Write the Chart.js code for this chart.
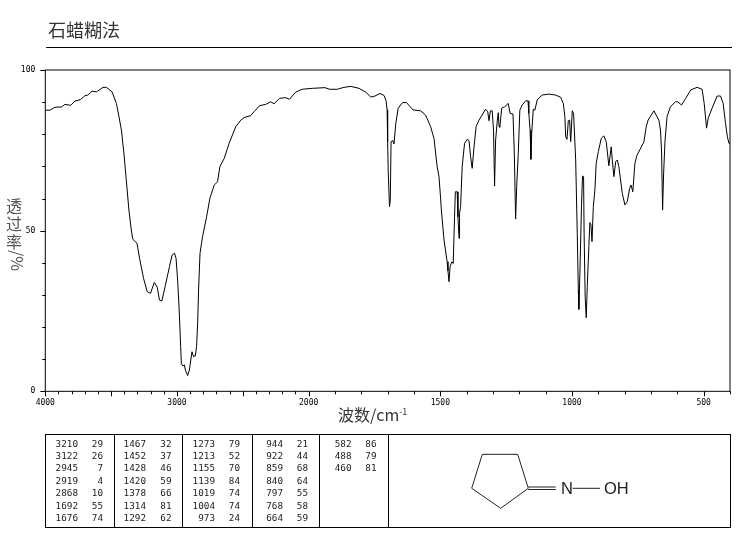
<!DOCTYPE html>
<html lang="zh">
<head>
<meta charset="utf-8">
<title>石蜡糊法</title>
<script src="https://cdn.jsdelivr.net/npm/chart.js@4"></script>
<style>
  html, body { margin: 0; padding: 0; background: #fff; }
  #page { position: relative; width: 737px; height: 539px; overflow: hidden; font-family: "Noto Sans CJK SC", sans-serif; color: #333; }
  #ir { position: absolute; left: 0; top: 0; }
  #title { position: absolute; left: 48px; top: 16px; font-size: 18px; line-height: 26px; white-space: nowrap; }
  #rule { position: absolute; left: 46px; top: 47px; width: 686px; height: 1px; background: #000; }
  #ylabel { position: absolute; left: 5px; top: 196px; width: 18px; font-size: 16px; color: #555; text-align: center; }
  #ylabel span { display: block; height: 18px; line-height: 18px; }
  #ylabel .turn { height: 26px; line-height: 18px; white-space: nowrap; transform: translateY(-4px) rotate(90deg); }
  #xlabel { position: absolute; left: 338px; top: 402px; font-size: 16px; line-height: 24px; color: #333; white-space: nowrap; }
  #xlabel sup { font-size: 9px; line-height: 0; }
  #peaks { position: absolute; left: 45px; top: 434px; width: 684px; height: 92px; border: 1px solid #000; box-sizing: content-box; }
  #peaks .sep { position: absolute; top: 0; width: 1px; height: 92px; background: #000; }
  #peaks .num { position: absolute; font: 9.3px/12px "DejaVu Sans Mono", monospace; color: #222; text-align: right; white-space: pre; }
  #mol { position: absolute; left: 389px; top: 435px; }
</style>
</head>
<body>
<div id="page">
  <canvas id="ir" width="737" height="539"></canvas>
  <div id="title">石蜡糊法</div>
  <div id="rule"></div>
  <div id="ylabel"><span>透</span><span>过</span><span>率</span><span class="turn">/%</span></div>
  <div id="xlabel">波数/cm<sup>-1</sup></div>
  <div id="peaks"></div>
  <svg id="mol" width="340" height="90" viewBox="389 435 340 90">
    <g fill="none" stroke="#222" stroke-width="1">
      <path d="M482.3 454.3 L517.7 454.3 L528.3 488.3 L500.7 508.3 L471.7 488.3 Z"/>
      <path d="M528.3 487 L555.7 487 M528.3 489.5 L555.7 489.5"/>
      <path d="M572.7 488.3 L600 488.3"/>
    </g>
    <g font-family="Liberation Sans, sans-serif" font-size="16.5" fill="#222">
      <text x="561" y="494">N</text>
      <text x="604" y="494">OH</text>
    </g>
  </svg>
</div>

<script>
// Spektrum: bilangan gelombang (cm-1) dan transmitansi (%)
const wavenumbers = [
  4000, 3964, 3927, 3876, 3851, 3808, 3775, 3732, 3700, 3677, 3645, 3611, 3562, 3536, 3493, 3460, 3443, 3422, 3403, 3385,
  3365, 3347, 3335, 3304, 3284, 3254, 3226, 3201, 3172, 3150, 3133, 3115, 3090, 3057, 3037, 3019, 3007, 2995, 2982, 2972,
  2967, 2957, 2944, 2936, 2919, 2906, 2886, 2874, 2861, 2851, 2843, 2836, 2825, 2806, 2775, 2750, 2717, 2692, 2674, 2641,
  2604, 2553, 2515, 2490, 2440, 2415, 2372, 2326, 2288, 2263, 2220, 2175, 2145, 2099, 2049, 1986, 1938, 1920, 1891, 1866,
  1840, 1809, 1783, 1764, 1748, 1729, 1714, 1706, 1702, 1700, 1698, 1693, 1690, 1687, 1680, 1676, 1669, 1660, 1644, 1629,
  1604, 1575, 1556, 1537, 1524, 1512, 1505, 1499, 1496, 1486, 1474, 1471, 1467, 1463, 1456, 1451, 1446, 1443, 1436, 1433,
  1429, 1427, 1423, 1417, 1408, 1398, 1391, 1385, 1379, 1372, 1364, 1353, 1328, 1320, 1315, 1310, 1303, 1298, 1294, 1290,
  1284, 1280, 1277, 1274, 1267, 1255, 1242, 1235, 1224, 1219, 1214, 1210, 1204, 1198, 1189, 1176, 1167, 1164, 1159, 1156,
  1153, 1147, 1141, 1132, 1113, 1088, 1062, 1043, 1033, 1027, 1024, 1019, 1014, 1009, 1005, 999, 994, 986, 980, 976,
  974, 970, 964, 960, 956, 954, 950, 946, 942, 936, 932, 928, 924, 919, 913, 908, 900, 889, 879, 870,
  860, 851, 847, 841, 834, 828, 822, 809, 799, 790, 781, 776, 769, 761, 753, 727, 718, 711, 689, 670,
  664, 660, 656, 652, 647, 639, 626, 607, 598, 584, 568, 549, 525, 506, 498, 489, 483, 468, 449, 436,
  426, 417, 410, 404, 400
];
const transmittance = [
  87.5, 87.5, 88.4, 88.5, 89.3, 89.0, 90.3, 90.8, 92.0, 92.2, 93.4, 93.2, 94.6, 94.6, 93.2, 89.6, 86.0, 81.3, 74.1, 65.8,
  56.4, 50.2, 47.3, 46.1, 41.4, 35.2, 31.0, 30.5, 33.9, 32.4, 28.4, 28.1, 32.6, 38.8, 42.4, 43.0, 41.4, 34.6, 24.3, 13.9,
  8.7, 7.9, 8.2, 6.6, 4.9, 6.6, 12.3, 10.8, 11.0, 13.9, 21.2, 31.5, 43.0, 48.1, 54.3, 60.1, 64.2, 65.2, 69.9, 72.5,
  77.2, 82.4, 84.4, 85.2, 85.8, 87.0, 88.9, 89.3, 90.1, 89.5, 91.2, 91.4, 90.9, 93.1, 94.0, 94.3, 94.5, 94.0, 94.0, 94.6,
  94.9, 94.3, 93.1, 91.6, 91.9, 92.7, 92.1, 90.4, 87.6, 77.7, 68.9, 57.4, 59.5, 77.7, 78.0, 77.0, 83.4, 88.1, 89.8, 89.9,
  87.6, 87.3, 86.0, 82.4, 78.7, 69.9, 66.8, 60.1, 56.4, 47.1, 40.3, 37.5, 34.1, 38.8, 40.3, 39.8, 54.3, 62.1, 62.1, 54.3,
  47.6, 55.4, 57.5, 69.9, 77.2, 78.4, 78.0, 73.0, 69.4, 76.1, 82.4, 84.4, 87.8, 87.0, 84.2, 87.3, 87.3, 81.3, 63.9, 78.2,
  83.9, 86.7, 82.4, 82.2, 88.1, 88.6, 89.6, 86.5, 86.3, 74.1, 53.6, 63.7, 74.1, 87.5, 89.1, 90.4, 90.4, 86.5, 81.3, 72.2,
  80.3, 87.8, 87.5, 90.7, 92.2, 92.5, 92.2, 91.5, 89.6, 85.5, 79.2, 78.4, 84.2, 84.4, 77.7, 87.3, 86.5, 72.0, 49.2, 31.5,
  25.5, 36.7, 57.5, 67.0, 66.8, 49.2, 29.4, 22.9, 32.6, 45.0, 52.5, 51.8, 46.6, 57.5, 62.7, 71.0, 74.6, 78.7, 79.5, 77.7,
  70.2, 76.1, 72.0, 66.8, 71.5, 72.0, 69.9, 61.6, 58.0, 59.0, 63.2, 64.2, 62.1, 71.0, 73.5, 77.6, 82.4, 84.4, 87.3, 84.4,
  81.3, 75.1, 56.4, 67.9, 77.7, 85.5, 88.6, 90.1, 90.1, 89.1, 91.2, 93.8, 94.6, 94.0, 89.6, 81.9, 85.0, 88.1, 91.9, 91.9,
  89.6, 83.4, 79.2, 77.2, 77.0
];

// Label sumbu
const xTickLabels = [4000, 3000, 2000, 1500, 1000, 500];
const yTickLabels = [0, 50, 100];

// Tabel puncak, per kolom
const peakWaves = [
  [3210, 3122, 2945, 2919, 2868, 1692, 1676],
  [1467, 1452, 1428, 1420, 1378, 1314, 1292],
  [1273, 1213, 1155, 1139, 1019, 1004, 973],
  [944, 922, 859, 840, 797, 768, 664],
  [582, 488, 460]
];
const peakValues = [
  [29, 26, 7, 4, 10, 55, 74],
  [32, 37, 46, 59, 66, 81, 62],
  [79, 52, 70, 84, 74, 74, 24],
  [21, 44, 68, 64, 55, 58, 59],
  [86, 79, 81]
];

// Sumbu IR: 4000-2000 dimampatkan setengah dibanding 2000-400
class WavenumberScale extends Chart.LinearScale {
  static id = "wavenumber";
  static defaults = Chart.LinearScale.defaults;

  toUnits(v) {
    return v >= 2000 ? (4000 - v) / 2 : 1000 + (2000 - v);
  }
  buildTicks() {
    super.buildTicks();
    const ticks = [];
    for (let v = 4000; v >= 400; v -= 100) ticks.push({ value: v });
    return ticks;
  }
  getPixelForValue(value) {
    return this.left + (this.toUnits(value) / 2600) * this.width;
  }
  getValueForPixel(pixel) {
    const u = ((pixel - this.left) / this.width) * 2600;
    return u <= 1000 ? 4000 - u * 2 : 2000 - (u - 1000);
  }
}
Chart.register(WavenumberScale);

// Garis tepi dan tick digambar sendiri karena panjang tick-nya berbeda-beda
const frameTicks = {
  id: "frameTicks",
  afterDraw(chart) {
    const { ctx, chartArea: area, scales } = chart;
    ctx.save();
    ctx.strokeStyle = "#000";
    ctx.lineWidth = 1;
    ctx.strokeRect(area.left, area.top, area.right - area.left, area.bottom - area.top);
    ctx.beginPath();
    scales.x.ticks.forEach((t) => {
      const px = Math.round(scales.x.getPixelForValue(t.value)) + 0.5;
      ctx.moveTo(px, area.bottom);
      ctx.lineTo(px, area.bottom + (t.value % 500 === 0 ? 5 : 3));
    });
    scales.y.ticks.forEach((t) => {
      const py = Math.round(scales.y.getPixelForValue(t.value)) + 0.5;
      ctx.moveTo(area.left, py);
      ctx.lineTo(area.left - (t.value % 50 === 0 ? 5 : 3), py);
    });
    ctx.stroke();
    ctx.restore();
  },
};

const tickFont = { family: "'DejaVu Sans Mono', monospace", size: 8 };

new Chart(document.getElementById("ir").getContext("2d"), {
  type: "line",
  data: {
    datasets: [
      {
        data: wavenumbers.map((w, i) => ({ x: w, y: transmittance[i] })),
        borderColor: "#000",
        borderWidth: 1,
        pointRadius: 0,
        tension: 0,
        fill: false,
      },
    ],
  },
  options: {
    responsive: false,
    animation: false,
    devicePixelRatio: 1,
    layout: { padding: { left: 0, top: 70, right: 6.5, bottom: 0 } },
    plugins: { legend: { display: false }, tooltip: { enabled: false } },
    scales: {
      x: {
        type: "wavenumber",
        min: 400,
        max: 4000,
        grid: { display: false, drawTicks: false },
        border: { display: false },
        afterFit: (axis) => { axis.height = 147.7; },
        ticks: {
          font: tickFont,
          color: "#000",
          padding: 7,
          maxRotation: 0,
          autoSkip: false,
          callback: (v) => (xTickLabels.includes(v) ? String(v) : ""),
        },
      },
      y: {
        min: 0,
        max: 100,
        grid: { display: false, drawTicks: false },
        border: { display: false },
        afterFit: (axis) => { axis.width = 45.3; },
        ticks: {
          stepSize: 10,
          font: tickFont,
          color: "#000",
          padding: 10,
          autoSkip: false,
          callback: (v) => (yTickLabels.includes(v) ? String(v) : ""),
        },
      },
    },
  },
  plugins: [frameTicks],
});

// Tabel puncak di bawah grafik
const peaksEl = document.getElementById("peaks");
const colSeps = [68, 136, 205.5, 273, 342];
const waveRight = [33, 101, 170, 238, 306.5];
const valueRight = [58, 126.5, 195, 263, 331.5];
const rowTops = [2.5, 15, 27.3, 39.6, 52, 64.5, 77];

colSeps.forEach((left) => {
  const sep = document.createElement("div");
  sep.className = "sep";
  sep.style.left = left + "px";
  peaksEl.appendChild(sep);
});

function addNum(text, right, top) {
  const el = document.createElement("div");
  el.className = "num";
  el.textContent = text;
  el.style.right = 685 - right + "px";
  el.style.top = top + "px";
  peaksEl.appendChild(el);
}

peakWaves.forEach((col, c) => {
  col.forEach((wave, r) => {
    addNum(String(wave), waveRight[c], rowTops[r]);
    addNum(String(peakValues[c][r]), valueRight[c], rowTops[r]);
  });
});
</script>
</body>
</html>
